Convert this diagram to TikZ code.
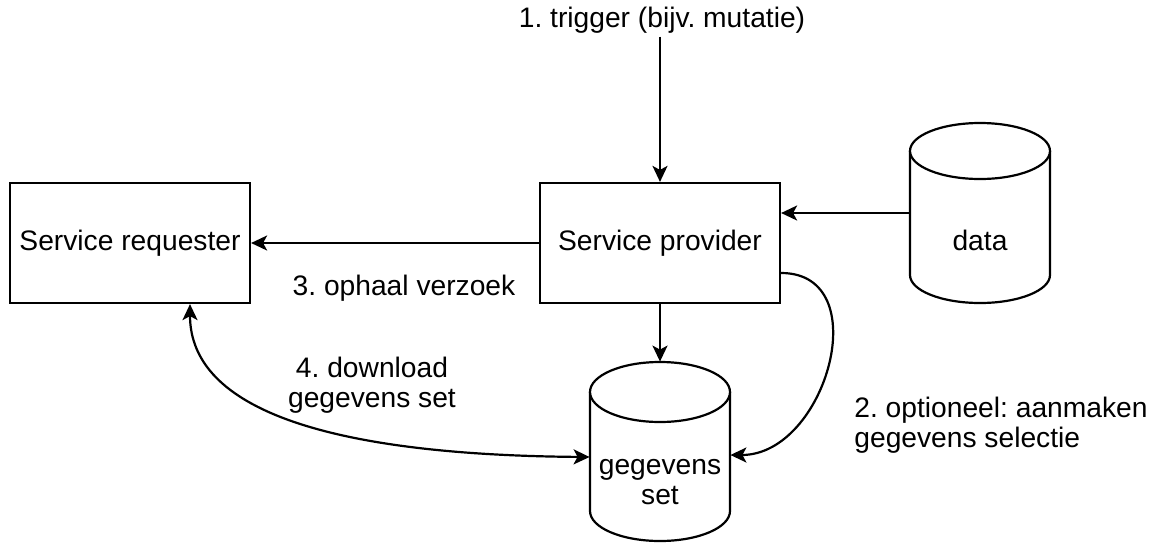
\documentclass[tikz,border=0pt]{standalone}
\usepackage{fontspec}
\setmainfont{Liberation Sans}
\usetikzlibrary{arrows.meta}
\begin{document}
\begin{tikzpicture}[x=0.5pt,y=-0.5pt,
  every node/.style={font=\fontsize{14.1pt}{15.2pt}\selectfont\frenchspacing, text=black},
  box/.style={draw=black, line width=1.1pt, fill=white, minimum width=120pt, minimum height=60pt, inner sep=0pt},
  cylbox/.style={minimum width=70pt, minimum height=90pt, inner sep=0pt},
  cylline/.style={draw=black, line width=1.1pt, fill=white},
  lbl/.style={inner sep=0pt},
  arr/.style={draw=black, line width=1.1pt, -{Stealth[length=8pt,width=7.5pt,inset=2pt]}},
  darr/.style={draw=black, line width=1.1pt, {Stealth[length=8pt,width=7.5pt,inset=2pt]}-{Stealth[length=8pt,width=7.5pt,inset=2pt]}}]
\useasboundingbox (0,0) rectangle (1152,542);

% boxes
\node[box] (req) at (130,243) {Service requester};
\node[box] (prov) at (660,243) {Service provider};

% data cylinder
\path[cylline] (910,151) -- (910,275) arc[start angle=180,end angle=0,x radius=70,y radius=28] -- (1050,151);
\path[cylline] (980,151) ellipse[x radius=70,y radius=28];
\node[cylbox] (data) at (980,213) {};
\node[lbl] (datat) at (980,240) {data};

% gegevens set cylinder
\path[cylline] (590,392) -- (590,511) arc[start angle=180,end angle=0,x radius=70,y radius=30] -- (730,392);
\path[cylline] (660,392) ellipse[x radius=70,y radius=30];
\node[cylbox] (set) at (660,452) {};
\node[lbl, align=center] (sett) at (660,482) {gegevens\\set};

% labels
\node[inner sep=1.5pt] (trig) at (662,20) {1. trigger (bijv. mutatie)};
\node[lbl] (l3) at (404,288) {3. ophaal verzoek};
\node[lbl, align=center] (l4) at (372,385) {4. download\\gegevens set};
\node[lbl, align=left, anchor=west] (l2) at (854,425) {2. optioneel: aanmaken\\gegevens selectie};

% connectors
\draw[arr] (trig.south -| prov.north) -- (prov.north);
\draw[arr] (data.west) -- (data.west -| prov.east);
\draw[arr] (prov.west) -- (req.east);
\draw[arr] (prov.south) -- (set.north);
\draw[arr] ([yshift=-15pt]prov.east) to[out=0,in=0,looseness=1.3] ([yshift=-1.5pt]set.east);
\draw[darr] ([xshift=30pt]req.south) .. controls (190,410) and (330,455) .. ([yshift=-2.5pt]set.west);
\end{tikzpicture}
\end{document}
